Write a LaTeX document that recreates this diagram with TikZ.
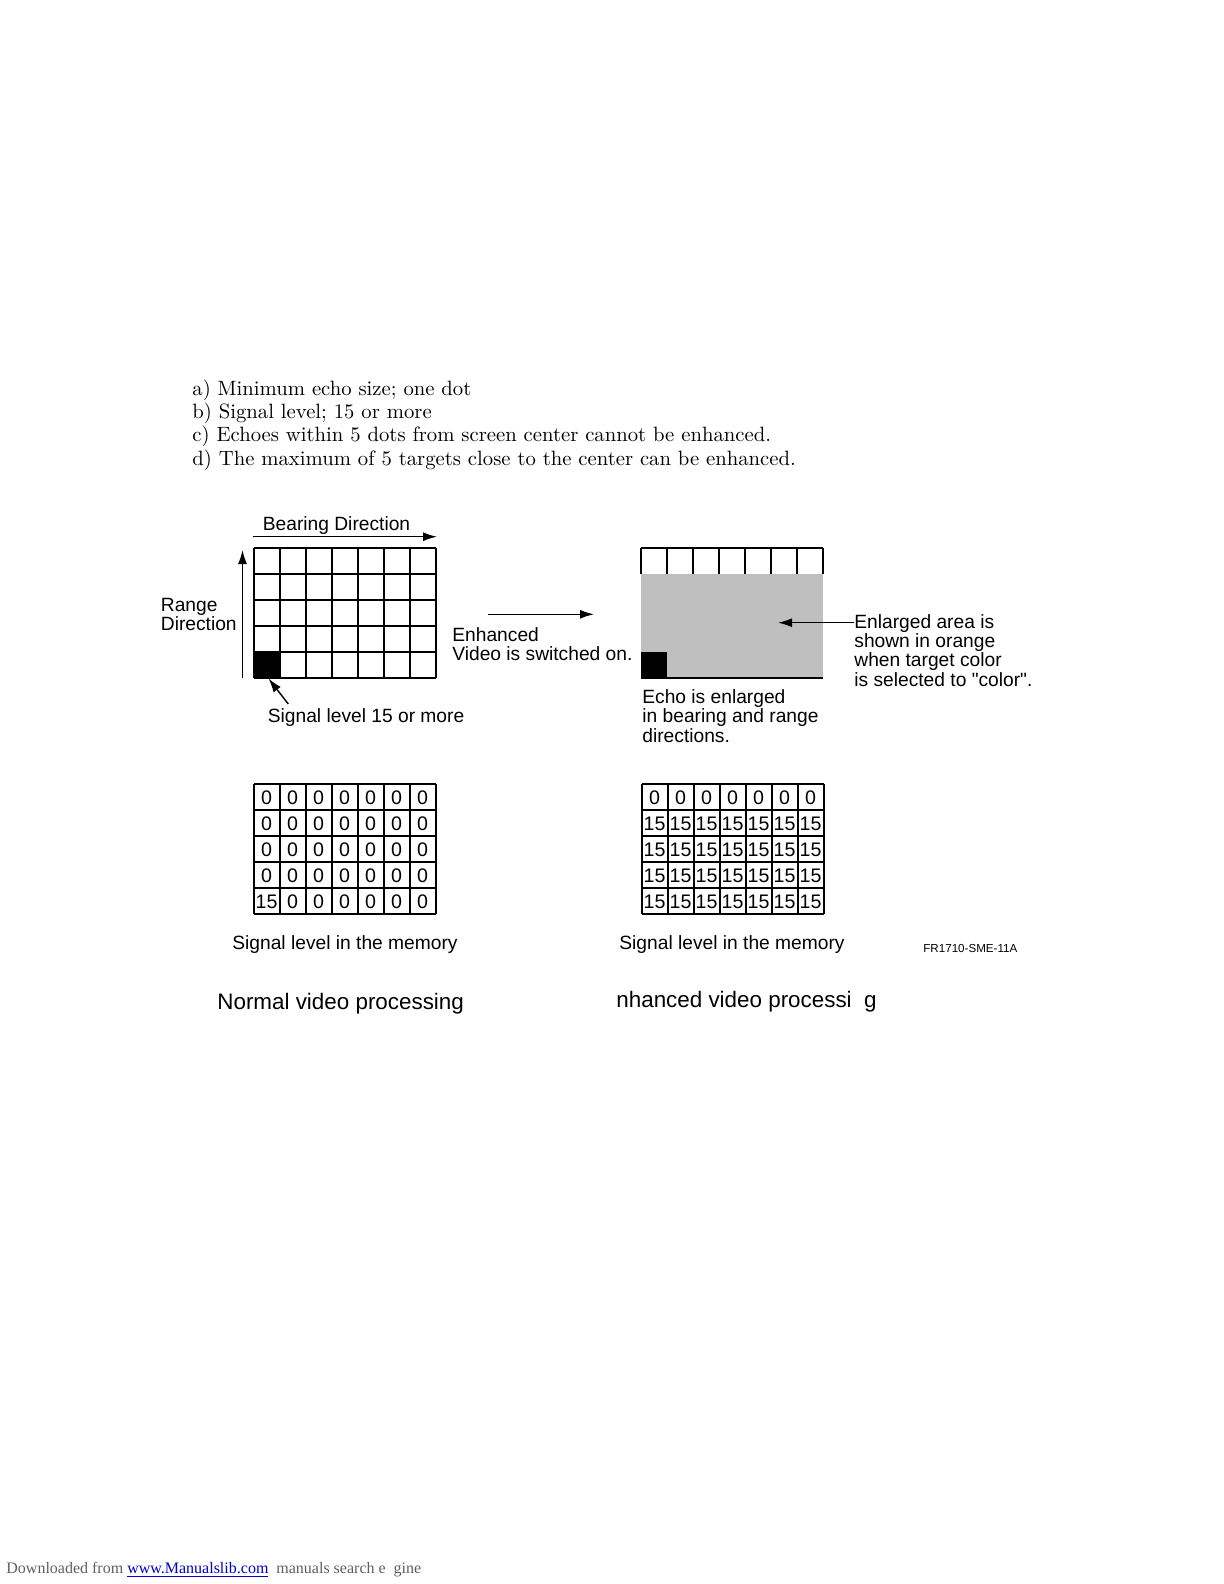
\documentclass[tikz,border=0pt]{standalone}
\usepackage{fontspec}
\usetikzlibrary{arrows.meta, calc}
\newfontfamily\lblfont{Liberation Sans}
\newfontfamily\dlfont{Liberation Serif}
\definecolor{echogray}{RGB}{191,191,191}
\definecolor{linkblue}{RGB}{0,0,204}
\definecolor{dlgray}{RGB}{95,95,95}

\tikzset{
  lbl/.style={font=\lblfont\fontsize{9.6bp}{9.6bp}\selectfont, inner sep=0pt, align=left, anchor=west},
  cellnum/.style={font=\lblfont\fontsize{9.8bp}{9.8bp}\selectfont, inner sep=0pt},
  note/.style={font=\fontsize{10.35bp}{12bp}\selectfont, inner sep=0pt, anchor=west},
  gridline/.style={line width=1bp},
  dirarrow/.style={-{Latex[length=7bp,width=4.5bp]}, line width=0.7bp},
}

\begin{document}
\begin{tikzpicture}[x=0.5bp, y=-0.5bp]
\useasboundingbox (0,0) rectangle (1224,1584);

% Notes
\node[note] (noteA) at (192,390) {a) Minimum echo size; one dot};
\node[note] (noteB) at (192,413) {b) Signal level; 15 or more};
\node[note] (noteC) at (192,436.5) {c) Echoes within 5 dots from screen center cannot be enhanced.};
\node[note] (noteD) at (192,460) {d) The maximum of 5 targets close to the center can be enhanced.};

% Normal echo grid
\fill (253.5,652) rectangle (279.5,678);
\foreach \i in {0,...,7}
  \draw[gridline] ({253.5+26*\i},548) -- ({253.5+26*\i},678);
\foreach \j in {0,...,5}
  \draw[gridline] (253.5,{548+26*\j}) -- (435.5,{548+26*\j});

% Directions
\coordinate (bearS) at (253,536.7);
\coordinate (bearE) at (437,536.7);
\coordinate (rangeS) at (242.5,678.3);
\coordinate (rangeE) at (242.5,550);
\draw[dirarrow] (bearS) -- (bearE);
\draw[dirarrow] (rangeS) -- (rangeE);
\node[lbl] (bearlbl) at (262.5,526) {Bearing Direction};
\node[lbl] (rangelbl) at (160.5,614.5) {Range\\Direction};

% Signal level
\node[lbl] (siglbl) at (267.5,718) {Signal level 15 or more};
\coordinate (sigS) at (288.3,704);
\coordinate (sigE) at (268.5,678.5);
\draw[dirarrow] (sigS) -- (sigE);

% Switch on
\coordinate (enhS) at (488,614.3);
\coordinate (enhE) at (594,614.3);
\draw[dirarrow] (enhS) -- (enhE);
\node[lbl] (enhlbl) at (452,644) {Enhanced\\Video is switched on.};

% Enhanced echo grid
\fill[echogray] (641,574) rectangle (823,678);
\fill (641,652) rectangle (667,678);
\foreach \i in {0,...,7}
  \draw[gridline] ({641+26*\i},548) -- ({641+26*\i},574);
\draw[gridline] (641,548) -- (823,548);
\draw[gridline] (641,678) -- (823,678);

\node[lbl] (orglbl) at (854,650.5) {Enlarged area is\\shown in orange\\when target color\\is selected to "color".};
\coordinate (orgE) at (778,622.7);
\draw[dirarrow] (orglbl.west |- orgE) -- (orgE);
\node[lbl] (echolbl) at (642,716) {Echo is enlarged\\in bearing and range\\directions.};

% Memory tables
\foreach \r in {0,...,4}
  \foreach \c in {0,...,6} {
    \pgfmathtruncatemacro\vA{(\r==4)*(\c==0)*15}
    \pgfmathtruncatemacro\vB{(\r>0)*15}
    \node[cellnum] (memA-\r-\c) at ({266.5+26*\c},{798+26*\r}) {\vA};
    \node[cellnum] (memB-\r-\c) at ({654.5+26*\c},{798+26*\r}) {\vB};
  }
\foreach \i in {0,...,7} {
  \draw[gridline] ({253.5+26*\i},784) -- ({253.5+26*\i},914);
  \draw[gridline] ({641.5+26*\i},784) -- ({641.5+26*\i},914);
}
\foreach \j in {0,...,5} {
  \draw[gridline] (253.5,{784+26*\j}) -- (435.5,{784+26*\j});
  \draw[gridline] (641.5,{784+26*\j}) -- (823.5,{784+26*\j});
}
\node[lbl] (memlblA) at (232,945) {Signal level in the memory};
\node[lbl] (memlblB) at (619,945) {Signal level in the memory};
\node[lbl, font=\lblfont\fontsize{5.8bp}{5.8bp}\selectfont] (figno) at (923,948.5) {FR1710-SME-11A};

% Titles
\node[lbl, font=\lblfont\fontsize{11.2bp}{11.2bp}\selectfont] (normtitle) at (217,1004) {Normal video processing};
\node[lbl, font=\lblfont\fontsize{11.2bp}{11.2bp}\selectfont] (enhtitle) at (616,1002) {nhanced video processi\phantom{n}g};

% Footer
\node[anchor=west, inner sep=0pt, font=\dlfont\fontsize{8bp}{8bp}\selectfont, text=dlgray] (footer) at (6,1570)
  {Downloaded from {\color{linkblue}\underline{www.Manualslib.com}}\ \ manuals search e\phantom{n}gine};

\end{tikzpicture}
\end{document}
